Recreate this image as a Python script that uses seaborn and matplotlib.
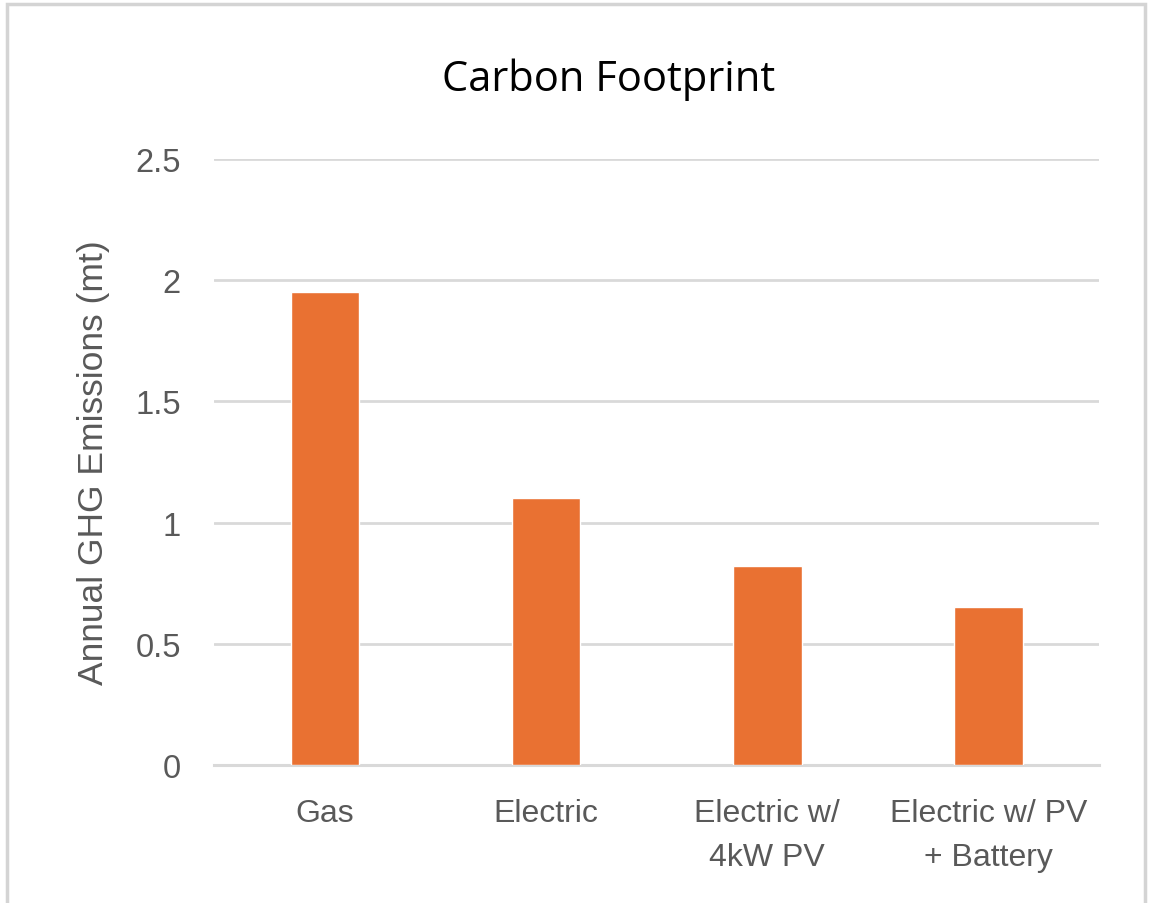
import matplotlib
matplotlib.use("Agg")
import matplotlib.pyplot as plt
from matplotlib.patches import Rectangle
from matplotlib.ticker import FuncFormatter
import seaborn as sns
import pandas as pd

# Annual emissions per home heating scenario
categories = ["Gas", "Electric", "Electric w/\n4kW PV", "Electric w/ PV\n+ Battery"]
emissions = [1.95, 1.10, 0.82, 0.65]

bar_color = "#E97132"
grid_color = "#D9D9D9"
text_color = "#595959"

sns.set_theme(style="white")
plt.rcParams["font.family"] = ["Liberation Sans", "DejaVu Sans"]

df = pd.DataFrame({"scenario": categories, "emissions": emissions})

fig = plt.figure(figsize=(11.52, 9.04), dpi=100)
ax = fig.add_axes([0.186, 0.1527, 0.768, 0.6703])

sns.barplot(data=df, x="scenario", y="emissions", color=bar_color,
            saturation=1, width=0.31, ax=ax, zorder=3)

ax.set_ylim(0, 2.5)
ax.set_yticks([0, 0.5, 1, 1.5, 2, 2.5])
ax.yaxis.set_major_formatter(FuncFormatter(lambda v, _: f"{v:g}"))
ax.grid(axis="y", color=grid_color, linewidth=2.0, zorder=0)
ax.set_axisbelow(True)
for side in ["left", "right", "top"]:
    ax.spines[side].set_visible(False)
ax.spines["bottom"].set_color(grid_color)
ax.spines["bottom"].set_linewidth(2.2)

ax.tick_params(axis="y", length=0, pad=24, labelsize=23.5, labelcolor=text_color)
ax.tick_params(axis="x", length=0, pad=24, labelsize=23, labelcolor=text_color)
for lbl in ax.get_xticklabels():
    lbl.set_linespacing(1.6)

ax.set_xlabel("")
ax.set_ylabel("Annual GHG Emissions (mt)", fontsize=25.5, color=text_color)
ax.yaxis.set_label_coords(-0.1175, 0.5)

fig.text(0.528, 0.912, "Carbon Footprint", ha="center", va="center",
         fontsize=30, color="black", family=["Open Sans", "DejaVu Sans"])

# light frame around the chart area
fig.patches.append(Rectangle((0.006, -0.01), 0.988, 1.004, transform=fig.transFigure,
                             fill=False, edgecolor="#D4D4D4", linewidth=2.5))

fig.savefig("out.png", dpi=100)
